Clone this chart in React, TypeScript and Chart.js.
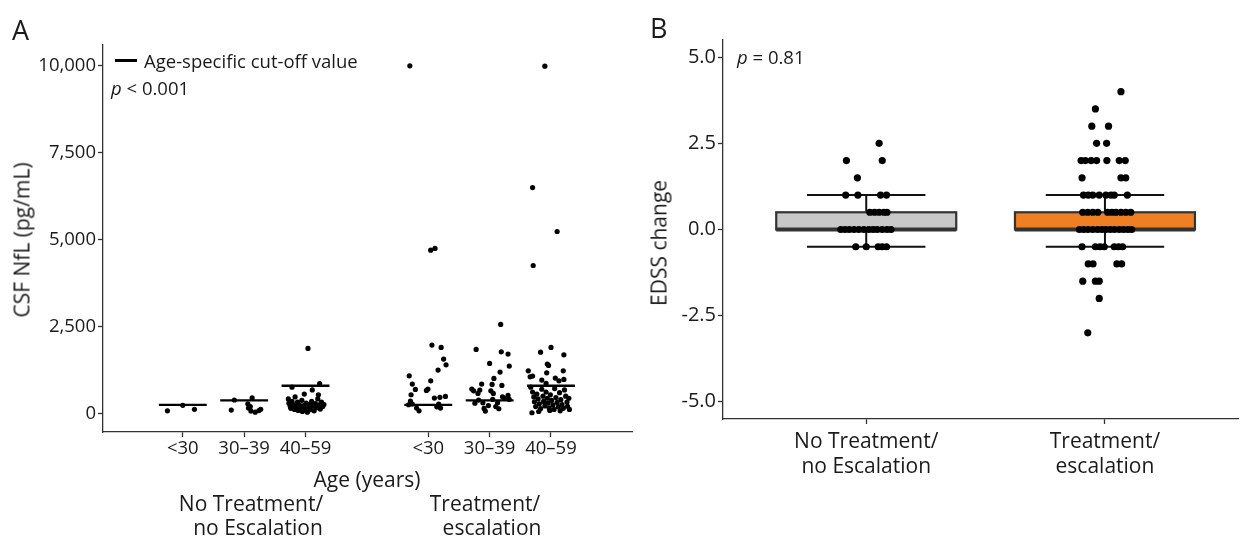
import React, { useEffect, useRef } from 'react';
import { Chart, registerables } from 'chart.js';

Chart.register(...registerables);

const FONT = '"Open Sans", "DejaVu Sans", sans-serif';
const INK = '#1a1a1a';

// ---------- Panel A : CSF NfL by age group ----------
const ageLabels = ['<30', '30–39', '40–59', '<30', '30–39', '40–59'];
const agePositions = [1, 2, 3, 5, 6, 7];
const cutoffValues = [250, 380, 800, 250, 380, 800];
const nflTicks = [0, 2500, 5000, 7500, 10000];

// [x jitter (category units), NfL pg/mL]
const nflNoTxLt30 = [[-0.25, 80], [0.0, 236], [0.19, 121]];
const nflNoTx3039 = [
  [-0.21, 100], [-0.16, 390], [0.13, 450], [0.06, 280], [0.07, 160],
  [0.11, 75], [0.18, 40], [0.24, 85], [0.27, 125], [0.1, 200],
];
const nflNoTx4059 = [
  [0.04, 1874], [-0.22, 760], [0.23, 860], [0.11, 680], [0.21, 540], [-0.02, 560],
  [-0.28, 420], [-0.27, 300], [-0.25, 220], [-0.24, 150], [-0.22, 350], [-0.2, 260],
  [-0.18, 120], [-0.17, 480], [-0.15, 200], [-0.13, 330], [-0.12, 90], [-0.1, 250],
  [-0.08, 160], [-0.06, 380], [-0.05, 60], [-0.03, 230], [-0.01, 130], [0.01, 300],
  [0.03, 40], [0.05, 190], [0.07, 270], [0.08, 110], [0.1, 350], [0.12, 210],
  [0.14, 80], [0.16, 290], [0.18, 170], [0.2, 420], [0.22, 250], [0.24, 130],
  [0.26, 330], [0.28, 200], [0.3, 260],
];
const nflTxLt30 = [
  [-0.3, 10000], [0.04, 4700], [0.11, 4750], [0.06, 1969], [0.21, 1902], [0.25, 1566],
  [0.29, 1403], [0.16, 1250], [-0.31, 1086], [0.04, 943], [-0.26, 848], [-0.005, 704],
  [-0.03, 667], [-0.21, 695], [-0.28, 541], [0.1, 445], [0.19, 466], [0.28, 494],
  [-0.29, 359], [-0.26, 273], [-0.32, 253], [-0.19, 158], [-0.15, 80], [0.14, 195],
  [0.2, 158], [0.17, 273],
];
const nflTx3039 = [
  [0.18, 2564], [-0.22, 1845], [0.19, 1776], [0.3, 1710], [0.0, 1443], [0.32, 1365],
  [0.17, 1193], [0.07, 1012], [0.04, 839], [-0.13, 848], [0.2, 810], [-0.29, 704],
  [-0.26, 655], [-0.16, 675], [-0.19, 580], [0.02, 655], [0.06, 580], [0.21, 483],
  [0.3, 523], [-0.18, 388], [-0.11, 310], [-0.09, 149], [-0.07, 72], [0.05, 408],
  [0.13, 310], [0.15, 138], [0.24, 437], [0.32, 408], [-0.24, 300], [-0.02, 230],
  [0.1, 200],
];
const nflTx4059 = [
  [-0.1, 9990], [-0.3, 6500], [0.1, 5236], [-0.29, 4259], [-0.17, 1767], [0.0, 1902],
  [0.21, 1690], [-0.06, 1423], [-0.04, 1385], [0.2, 1230], [-0.37, 1230], [-0.34, 1058],
  [-0.3, 1078], [-0.07, 1173], [0.07, 1020], [0.13, 943], [0.21, 983], [-0.15, 963],
  [-0.08, 868], [-0.31, 23],
  [-0.33, 760], [-0.3, 620], [-0.28, 480], [-0.27, 340], [-0.25, 200], [-0.23, 560],
  [-0.21, 420], [-0.19, 280], [-0.17, 140], [-0.15, 700], [-0.13, 500], [-0.12, 350],
  [-0.1, 220], [-0.08, 620], [-0.06, 440], [-0.05, 300], [-0.03, 160], [-0.01, 540],
  [0.01, 380], [0.03, 250], [0.05, 120], [0.06, 720], [0.08, 460], [0.1, 320],
  [0.12, 190], [0.14, 600], [0.16, 400], [0.18, 260], [0.2, 150], [0.22, 680],
  [0.24, 500], [0.26, 330], [0.27, 210], [0.29, 440], [0.3, 120], [-0.2, 60],
  [0.15, 80], [-0.02, 90],
];
const nflGroups = [nflNoTxLt30, nflNoTx3039, nflNoTx4059, nflTxLt30, nflTx3039, nflTx4059];

// ---------- Panel B : EDSS change ----------
const edssGroupLabels = [['No Treatment/', 'no Escalation'], ['Treatment/', 'escalation']];
const edssPositions = [1, 2];
const edssTicks = [-5, -2.5, 0, 2.5, 5];
const boxQ1 = [0, 0];
const boxMedian = [0, 0];
const boxQ3 = [0.5, 0.5];
const whiskerLow = [-0.5, -0.5];
const whiskerHigh = [1, 1];
const boxColors = ['#c8c8c8', '#ee7f22'];

// [x jitter (category units), EDSS change]
const edssNoTx = [
  [0.054, 2.5], [-0.083, 2], [0.067, 2], [-0.037, 1.5],
  [-0.086, 1], [-0.035, 1], [0.06, 1], [0.085, 1],
  [0.015, 0.5], [0.035, 0.5], [0.054, 0.5], [0.074, 0.5], [0.087, 0.5],
  [-0.107, 0], [-0.089, 0], [-0.071, 0], [-0.051, 0], [-0.031, 0], [-0.01, 0],
  [0.011, 0], [0.029, 0], [0.046, 0], [0.067, 0], [0.087, 0], [0.104, 0],
  [-0.044, -0.5], [0.0, -0.5], [0.05, -0.5], [0.067, -0.5], [0.085, -0.5],
];
const edssTx = [
  [0.067, 4], [-0.04, 3.5], [-0.055, 3], [0.015, 3], [-0.035, 2.5], [0.007, 2.5],
  [-0.1, 2], [-0.082, 2], [-0.058, 2], [-0.035, 2], [0.008, 2], [0.06, 2], [0.085, 2],
  [-0.096, 1.5], [0.067, 1.5], [0.087, 1.5],
  [-0.09, 1], [-0.07, 1], [-0.051, 1], [-0.024, 1], [0.004, 1], [0.025, 1], [0.039, 1], [0.094, 1],
  [-0.093, 0.5], [-0.072, 0.5], [-0.051, 0.5], [-0.03, 0.5], [0.011, 0.5], [0.029, 0.5],
  [0.046, 0.5], [0.067, 0.5], [0.087, 0.5], [0.108, 0.5],
  [-0.107, 0], [-0.089, 0], [-0.071, 0], [-0.051, 0], [-0.031, 0], [-0.013, 0], [0.004, 0],
  [0.022, 0], [0.04, 0], [0.06, 0], [0.078, 0], [0.096, 0], [0.112, 0],
  [-0.096, -0.5], [-0.04, -0.5], [-0.021, -0.5], [-0.003, -0.5], [0.039, -0.5], [0.057, -0.5], [0.074, -0.5],
  [-0.07, -1], [-0.05, -1], [0.05, -1], [0.07, -1],
  [-0.093, -1.5], [-0.04, -1.5], [-0.024, -1.5],
  [-0.024, -2], [-0.072, -3],
];
const edssGroups = [edssNoTx, edssTx];

const fmtThousands = (v: number) => v.toLocaleString('en-US');

function axisCommon(size: number) {
  return {
    grid: { display: true, drawOnChartArea: false, drawTicks: true, tickLength: 5, tickColor: '#333', tickWidth: 1.3 },
    border: { display: true, color: '#333', width: 1.3 },
    font: { family: FONT, size },
  };
}

const boxPlugin = {
  id: 'edssBoxes',
  beforeDatasetsDraw(chart: any) {
    const { ctx } = chart;
    const x = chart.scales.x;
    const y = chart.scales.y;
    const halfBox = 0.377;
    const halfCap = 0.248;
    edssPositions.forEach((pos, i) => {
      const cx = x.getPixelForValue(pos);
      const bl = x.getPixelForValue(pos - halfBox);
      const br = x.getPixelForValue(pos + halfBox);
      const cl = x.getPixelForValue(pos - halfCap);
      const cr = x.getPixelForValue(pos + halfCap);
      const yq1 = y.getPixelForValue(boxQ1[i]);
      const yq3 = y.getPixelForValue(boxQ3[i]);
      const ymed = y.getPixelForValue(boxMedian[i]);
      const ylo = y.getPixelForValue(whiskerLow[i]);
      const yhi = y.getPixelForValue(whiskerHigh[i]);
      ctx.save();
      ctx.strokeStyle = '#111';
      ctx.lineWidth = 2;
      ctx.beginPath();
      ctx.moveTo(cx, yq3); ctx.lineTo(cx, yhi);
      ctx.moveTo(cx, yq1); ctx.lineTo(cx, ylo);
      ctx.moveTo(cl, yhi); ctx.lineTo(cr, yhi);
      ctx.moveTo(cl, ylo); ctx.lineTo(cr, ylo);
      ctx.stroke();
      ctx.fillStyle = boxColors[i];
      ctx.fillRect(bl, yq3, br - bl, yq1 - yq3);
      ctx.strokeStyle = '#333';
      ctx.lineWidth = 2.2;
      ctx.strokeRect(bl, yq3, br - bl, yq1 - yq3);
      ctx.lineWidth = 4;
      ctx.beginPath();
      ctx.moveTo(bl, ymed); ctx.lineTo(br, ymed);
      ctx.stroke();
      ctx.restore();
    });
  },
};

function PanelA() {
  const ref = useRef<HTMLCanvasElement>(null);
  useEffect(() => {
    const pointSets = nflGroups.map((g, gi) => ({
      type: 'scatter' as const,
      data: g.map(([j, v]) => ({ x: agePositions[gi] + j, y: v })),
      pointRadius: 2.6,
      pointHoverRadius: 2.6,
      backgroundColor: '#000',
      borderWidth: 0,
      order: 1,
    }));
    const lineSets = cutoffValues.map((c, gi) => ({
      type: 'line' as const,
      data: [{ x: agePositions[gi] - 0.39, y: c }, { x: agePositions[gi] + 0.39, y: c }],
      showLine: true,
      borderColor: '#000',
      borderWidth: 2.4,
      pointRadius: 0,
      order: 0,
    }));
    const ax = axisCommon(18.5);
    const ch = new Chart(ref.current!, {
      type: 'scatter',
      data: { datasets: [...pointSets, ...lineSets] as any },
      options: {
        animation: false,
        responsive: false,
        devicePixelRatio: 1,
        layout: { padding: { top: 45, right: 8, left: 0, bottom: 0 } },
        plugins: { legend: { display: false }, tooltip: { enabled: false } },
        scales: {
          x: {
            type: 'linear',
            min: -0.3,
            max: 8.32,
            afterBuildTicks: (s: any) => { s.ticks = agePositions.map((v) => ({ value: v })); },
            afterFit: (s: any) => { s.height = 108; },
            ticks: {
              autoSkip: false,
              maxRotation: 0,
              padding: 1,
              color: INK,
              font: ax.font,
              callback: (_v: any, i: number) => ageLabels[i],
            },
            grid: ax.grid,
            border: ax.border,
          },
          y: {
            type: 'linear',
            min: -530,
            max: 10600,
            afterBuildTicks: (s: any) => { s.ticks = nflTicks.map((v) => ({ value: v })); },
            afterFit: (s: any) => { s.width = 103; },
            ticks: { padding: 2, color: INK, font: ax.font, callback: (v: any) => fmtThousands(Number(v)) },
            grid: ax.grid,
            border: ax.border,
          },
        },
      } as any,
    });
    return () => ch.destroy();
  }, []);
  return <canvas ref={ref} width={640} height={540} style={{ position: 'absolute', left: 0, top: 0 }} />;
}

function PanelB() {
  const ref = useRef<HTMLCanvasElement>(null);
  useEffect(() => {
    const pointSets = edssGroups.map((g, gi) => ({
      data: g.map(([j, v]) => ({ x: edssPositions[gi] + j, y: v })),
      pointRadius: 3.6,
      pointHoverRadius: 3.6,
      backgroundColor: '#000',
      borderWidth: 0,
    }));
    const ax = axisCommon(20);
    const ch = new Chart(ref.current!, {
      type: 'scatter',
      data: { datasets: pointSets as any },
      plugins: [boxPlugin],
      options: {
        animation: false,
        responsive: false,
        devicePixelRatio: 1,
        layout: { padding: { top: 40, right: 0, left: 0, bottom: 0 } },
        plugins: { legend: { display: false }, tooltip: { enabled: false } },
        scales: {
          x: {
            type: 'linear',
            min: 0.4,
            max: 2.559,
            afterBuildTicks: (s: any) => { s.ticks = edssPositions.map((v) => ({ value: v })); },
            afterFit: (s: any) => { s.height = 121; },
            ticks: {
              autoSkip: false,
              maxRotation: 0,
              padding: 5,
              color: INK,
              font: { family: FONT, size: 21 },
              callback: (_v: any, i: number) => edssGroupLabels[i],
            },
            grid: ax.grid,
            border: ax.border,
          },
          y: {
            type: 'linear',
            min: -5.5,
            max: 5.5,
            afterBuildTicks: (s: any) => { s.ticks = edssTicks.map((v) => ({ value: v })); },
            afterFit: (s: any) => { s.width = 83; },
            ticks: { padding: 2, color: INK, font: ax.font, callback: (v: any) => Number(v).toFixed(1) },
            grid: ax.grid,
            border: ax.border,
          },
        },
      } as any,
    });
    return () => ch.destroy();
  }, []);
  return <canvas ref={ref} width={602} height={540} style={{ position: 'absolute', left: 640, top: 0 }} />;
}

function Txt(props: { x: number; y: number; size: number; rotate?: boolean; children: React.ReactNode }) {
  const { x, y, size, rotate, children } = props;
  return (
    <div
      style={{
        position: 'absolute',
        left: x,
        top: y,
        transform: `translate(-50%, -50%)${rotate ? ' rotate(-90deg)' : ''}`,
        fontFamily: FONT,
        fontSize: size,
        lineHeight: 1,
        whiteSpace: 'nowrap',
        color: INK,
      }}
    >
      {children}
    </div>
  );
}

function LeftTxt(props: { x: number; y: number; size: number; children: React.ReactNode }) {
  const { x, y, size, children } = props;
  return (
    <div
      style={{
        position: 'absolute',
        left: x,
        top: y,
        transform: 'translateY(-50%)',
        fontFamily: FONT,
        fontSize: size,
        lineHeight: 1,
        whiteSpace: 'nowrap',
        color: INK,
      }}
    >
      {children}
    </div>
  );
}

export default function App() {
  return (
    <div style={{ position: 'absolute', left: 0, top: 0, width: 1242, height: 540, background: '#fff', overflow: 'hidden' }}>
      <PanelA />
      <PanelB />
      <LeftTxt x={12} y={29} size={27}>A</LeftTxt>
      <LeftTxt x={650} y={27} size={27}>B</LeftTxt>
      <div style={{ position: 'absolute', left: 115, top: 59, width: 22, height: 2.5, background: '#000' }} />
      <LeftTxt x={144} y={61} size={18.5}>Age-specific cut-off value</LeftTxt>
      <LeftTxt x={111} y={88} size={18.5}><i>p</i> &lt; 0.001</LeftTxt>
      <LeftTxt x={737} y={57} size={18.5}><i>p</i> = 0.81</LeftTxt>
      <Txt x={22} y={240} size={21} rotate>CSF NfL (pg/mL)</Txt>
      <Txt x={659} y={243} size={21} rotate>EDSS change</Txt>
      <Txt x={367} y={479} size={21}>Age (years)</Txt>
      <Txt x={251} y={503} size={21}>No Treatment/</Txt>
      <Txt x={258} y={527} size={21}>no Escalation</Txt>
      <Txt x={485} y={503} size={21}>Treatment/</Txt>
      <Txt x={492} y={527} size={21}>escalation</Txt>
    </div>
  );
}
